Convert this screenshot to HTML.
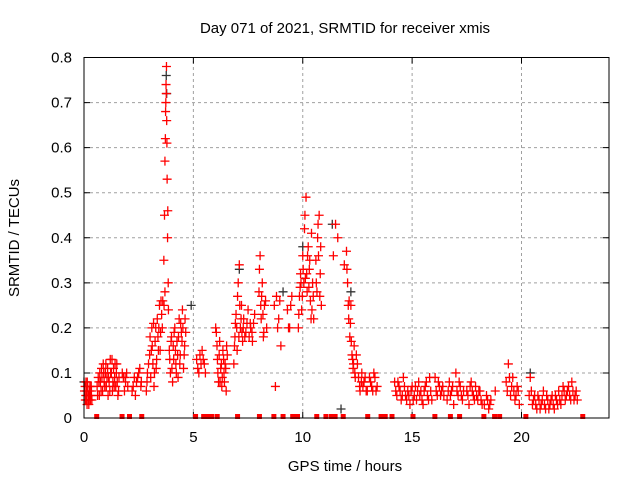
<!DOCTYPE html>
<html><head><meta charset="utf-8"><style>
body{margin:0;background:#fff}
svg{display:block;font-family:"Liberation Sans",sans-serif}
</style></head><body>
<svg id="c" width="640" height="480" xmlns="http://www.w3.org/2000/svg">
<rect width="640" height="480" fill="#fff"/>
<text x="345" y="33" font-size="15" text-anchor="middle" fill="#000">Day 071 of 2021, SRMTID for receiver xmis</text>
<text x="345" y="471" font-size="15" text-anchor="middle" fill="#000">GPS time / hours</text>
<text transform="translate(19,238) rotate(-90)" font-size="15" text-anchor="middle" fill="#000">SRMTID / TECUs</text>
<g id="grid"></g>
<g id="axes"></g>
<g id="marks"></g>
<rect x="84" y="57.5" width="525" height="360.5" fill="none" stroke="#000" stroke-width="1"/>
</svg>
<script>
const xTicks=[0,5,10,15,20];
const yTicks=[0,0.1,0.2,0.3,0.4,0.5,0.6,0.7,0.8];
const yTickLabels=["0","0.1","0.2","0.3","0.4","0.5","0.6","0.7","0.8"];
const times=[0.05,0.08,0.1,0.12,0.15,0.18,0.2,0.22,0.25,0.28,0.3,0.33,
0.6,0.65,0.7,0.75,0.8,0.85,0.9,0.95,1.0,1.05,1.1,1.15,1.2,1.25,1.3,1.35,1.4,1.45,1.5,1.55,
1.85,1.9,2.0,2.2,2.3,2.4,2.5,2.6,
2.85,2.9,3.0,3.05,3.1,3.15,3.2,3.25,3.3,3.35,3.4,3.45,3.5,3.55,3.6,
3.65,3.68,3.7,3.72,3.74,3.75,3.77,3.78,3.8,3.82,3.85,
3.9,3.95,4.0,4.05,4.1,4.15,4.2,4.25,4.3,4.35,4.4,4.45,4.5,4.55,4.6,
5.2,5.3,5.35,5.45,
6.05,6.1,6.15,6.2,6.25,6.3,6.35,6.4,6.45,6.5,6.55,
6.85,6.9,6.95,7.0,7.05,7.1,7.15,7.2,7.25,7.3,7.4,7.5,7.6,7.7,7.8,
8.0,8.05,8.1,8.15,8.2,8.25,8.35,
8.7,8.75,8.8,8.9,9.0,9.3,9.4,9.5,
9.8,9.85,9.9,9.95,10.0,10.05,10.1,10.15,10.2,10.25,10.3,10.35,10.4,10.45,10.5,10.6,10.65,10.7,10.75,10.8,10.85,
11.4,11.5,11.6,11.9,12.0,12.05,12.1,12.15,12.2,12.25,12.3,12.35,12.4,12.5,12.6,12.7,12.8,12.9,13.05,13.15,13.25,13.35,
14.2,14.3,14.4,14.5,14.6,14.7,14.8,14.9,15.0,15.1,15.2,15.3,15.4,15.5,15.6,15.7,15.8,15.9,16.1,16.2,16.3,16.4,16.6,16.7,16.8,16.9,17.0,17.1,17.2,17.3,17.5,17.6,17.7,17.8,17.9,18.0,18.1,18.2,18.4,18.5,18.6,18.8,19.3,19.4,19.5,19.6,19.7,19.8,19.9,20.4,20.5,20.6,20.7,20.8,20.9,21.0,21.1,21.2,21.3,21.4,21.5,21.6,21.7,21.8,21.9,22.0,22.1,22.2,22.3,22.4,22.5,
0.02,0.06,0.09,0.11,0.14,0.17,0.21,0.24,0.27,0.31,0.34,0.36,
0.62,0.68,0.72,0.78,0.82,0.88,0.92,0.98,1.02,1.08,1.12,1.18,1.22,1.28,1.32,1.38,1.42,1.48,1.52,1.58,1.6,
1.75,1.8,1.88,1.95,2.25,2.35,2.45,2.55,2.62,
2.88,2.95,3.02,3.08,3.12,3.18,3.22,3.28,3.32,3.38,3.42,3.48,3.52,3.58,
3.66,3.7,3.73,3.76,3.79,3.83,3.86,
3.92,3.98,4.02,4.08,4.12,4.18,4.22,4.28,4.32,4.38,4.42,4.48,4.52,4.58,4.62,4.65,
5.15,5.25,5.4,5.5,5.55,
6.02,6.08,6.12,6.18,6.22,6.28,6.32,6.38,6.42,6.48,6.52,
6.88,6.92,6.98,7.02,7.08,7.12,7.18,7.22,7.28,7.35,7.45,7.55,7.62,7.68,7.75,
8.02,8.08,8.12,8.18,8.22,8.3,
8.85,8.95,9.35,9.45,
9.82,9.88,9.92,9.98,10.02,10.08,10.12,10.18,10.22,10.28,10.32,10.38,10.42,10.48,10.62,10.68,10.72,10.78,10.82,
12.02,12.08,12.12,12.18,12.22,12.28,12.32,12.38,12.45,12.55,12.62,12.68,12.75,12.85,12.95,13.1,13.2,13.3,13.4,
14.25,14.35,14.45,14.55,14.65,14.75,14.85,14.95,15.05,15.15,15.25,15.35,15.45,15.55,15.65,15.75,15.85,16.05,16.15,16.25,16.35,16.45,16.65,16.75,16.85,17.05,17.15,17.25,17.35,17.55,17.65,17.75,17.85,17.95,18.05,18.15,18.3,18.45,18.55,19.35,19.45,19.55,19.65,19.75,19.85,20.35,20.45,20.55,20.65,20.75,20.85,20.95,21.05,21.15,21.25,21.35,21.45,21.55,21.65,21.75,21.85,21.95,22.05,22.15,22.25,22.35,22.45,22.55];
const values=[.07,.05,.04,.06,.08,.05,.04,.03,.06,.05,.04,.07,
.07,.09,.05,.08,.11,.06,.1,.07,.12,.09,.05,.08,.13,.1,.06,.11,.09,.07,.12,.05,
.06,.08,.07,.06,.09,.08,.1,.07,
.06,.1,.14,.09,.2,.12,.07,.17,.11,.22,.15,.25,.19,.23,.26,
.35,.45,.57,.62,.7,.74,.78,.66,.53,.4,.3,
.15,.1,.18,.08,.13,.2,.12,.17,.09,.22,.14,.19,.24,.11,.16,
.11,.14,.12,.13,
.19,.13,.08,.17,.11,.07,.15,.1,.12,.06,.14,
.12,.18,.23,.15,.3,.34,.2,.25,.17,.22,.19,.24,.21,.17,.23,
.28,.36,.22,.3,.18,.25,.2,
.25,.07,.27,.22,.16,.24,.2,.27,
.2,.27,.32,.24,.36,.3,.45,.49,.28,.38,.33,.26,.41,.3,.22,.35,.28,.43,.45,.32,.25,
.36,.43,.4,.34,.37,.3,.22,.18,.25,.14,.11,.16,.09,.12,.07,.1,.08,.06,.09,.07,.1,.06,
.08,.05,.07,.04,.09,.05,.06,.03,.07,.05,.04,.08,.06,.03,.07,.05,.09,.04,.06,.08,.05,.07,.04,.08,.06,.03,.1,.05,.07,.04,.06,.03,.08,.05,.07,.04,.06,.03,.05,.02,.04,.06,.08,.12,.05,.09,.04,.07,.03,.09,.03,.05,.02,.04,.03,.06,.02,.04,.03,.05,.02,.04,.06,.03,.07,.04,.06,.05,.08,.04,.06,
.06,.04,.08,.05,.03,.07,.05,.04,.07,.05,.06,.04,
.05,.08,.1,.06,.09,.12,.08,.1,.07,.11,.09,.06,.1,.13,.08,.07,.12,.1,.08,.06,.09,
.1,.09,.09,.1,.07,.05,.09,.11,.08,
.08,.12,.18,.15,.16,.21,.1,.2,.13,.18,.2,.15,.26,.2,
.25,.28,.68,.72,.61,.46,.24,
.13,.17,.11,.16,.19,.15,.1,.14,.18,.12,.21,.17,.2,.14,.22,.19,
.13,.1,.15,.12,.1,
.2,.16,.1,.14,.08,.12,.09,.13,.08,.11,.16,
.16,.21,.2,.27,.18,.25,.22,.19,.2,.18,.21,.18,.2,.19,.21,
.33,.25,.27,.23,.19,.26,
.2,.26,.2,.25,
.23,.29,.3,.27,.33,.42,.31,.32,.36,.29,.35,.22,.24,.27,.3,.4,.36,.27,.38,
.33,.25,.26,.21,.17,.13,.12,.1,.14,.09,.06,.08,.07,.09,.06,.08,.06,.09,.07,
.06,.08,.06,.05,.07,.04,.05,.06,.04,.07,.06,.05,.04,.06,.08,.04,.06,.09,.05,.07,.06,.05,.06,.05,.07,.06,.08,.05,.06,.05,.07,.06,.04,.05,.06,.04,.03,.04,.03,.06,.09,.07,.06,.05,.06,.05,.06,.04,.03,.05,.02,.04,.03,.05,.02,.04,.03,.05,.03,.04,.05,.06,.05,.07,.04,.06,.05,.04];
const blackTimes=[0.0,3.76,3.78,4.9,7.1,9.1,10.0,11.35,11.75,12.2,20.4];
const blackValues=[.08,.76,.72,.25,.33,.28,.38,.43,.02,.28,.1];
const gapTimes=[0.58,1.74,2.08,2.64,5.1,5.47,5.66,5.84,6.09,7.02,8.02,8.68,9.1,9.54,9.76,10.64,11.06,11.31,11.48,11.85,12.97,13.58,13.77,14.08,15.04,16.04,16.75,17.17,18.28,18.77,19.0,20.2,22.8];

const NS="http://www.w3.org/2000/svg";
const X0=84,X1=609,Y0=418,Y1=57.5,XMAX=24,YMAX=0.8;
const sx=t=>X0+(X1-X0)*t/XMAX;
const sy=v=>Y0-(Y0-Y1)*v/YMAX;
function mk(tag,attrs,parent){const e=document.createElementNS(NS,tag);for(const k in attrs)e.setAttribute(k,attrs[k]);parent.appendChild(e);return e;}
const grid=document.getElementById('grid'),axes=document.getElementById('axes'),marks=document.getElementById('marks');
xTicks.forEach(t=>{
  if(t>0){const g=mk('line',{x1:sx(t),x2:sx(t),y1:Y0,y2:Y1,stroke:'#a0a0a0','stroke-dasharray':'3,3'},grid);
  
  }
  const tl=mk('path',{d:`M${sx(t)},${Y0}v-6M${sx(t)},${Y1}v6`,stroke:'#000'},axes);
  
  
  const tx=mk('text',{x:sx(t),y:Y0+24,'font-size':15,'text-anchor':'middle'},axes);
  tx.textContent=t;
  
  
});
yTicks.forEach((v,i)=>{
  if(v>0&&v<YMAX){const g=mk('line',{x1:X0,x2:X1,y1:sy(v),y2:sy(v),stroke:'#a0a0a0','stroke-dasharray':'3,3'},grid);
  
  }
  const tl=mk('path',{d:`M${X0},${sy(v)}h6M${X1},${sy(v)}h-6`,stroke:'#000'},axes);
  
  
  const tx=mk('text',{x:X0-12,y:sy(v)+5,'font-size':15,'text-anchor':'end'},axes);
  tx.textContent=yTickLabels[i];
  
  
});
function plus(t,v,col){
  const x=sx(t),y=sy(v);
  const p=mk('path',{d:`M${x-4.5},${y}H${x+4.5}M${x},${y-4.5}V${y+4.5}`,stroke:col,'stroke-width':1.3,fill:'none'},marks);
  
  
}
blackTimes.forEach((t,i)=>plus(t,blackValues[i],'#333'));
times.forEach((t,i)=>plus(t,values[i],'#ff0000'));
gapTimes.forEach(t=>{
  const r=mk('rect',{x:sx(t)-2.5,y:Y0-4,width:5,height:5,fill:'#ff0000'},marks);
  
  
});
</script>
</body></html>
